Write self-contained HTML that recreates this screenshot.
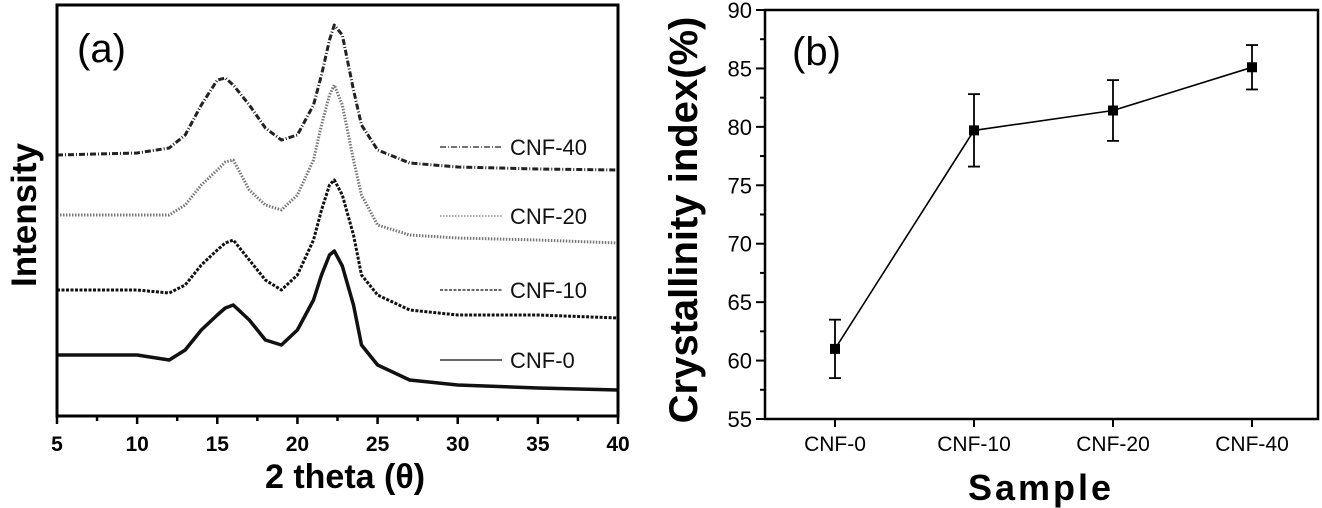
<!DOCTYPE html>
<html><head><meta charset="utf-8"><style>
html,body{margin:0;padding:0;background:#fff;}
svg{display:block;font-family:"Liberation Sans",Arial,sans-serif;}
</style></head><body>
<svg id="chart" width="1322" height="508" viewBox="0 0 1322 508">
<g id="pa"></g>
<g id="pb"></g>
</svg>
<script>
// Panel (a) data: 2theta positions and intensities (arbitrary units)
const xrdX = [5,10,12,13,14,15,15.5,16,17,18,19,20,21,21.5,22,22.3,22.8,23.5,24,25,27,30,35,40];
const cnf40 = [261,263,268,281,311,336,338,331,311,288,276,281,311,341,376,391,381,326,291,266,253,249,247,246];
const cnf20 = [201,201,201,211,231,246,254,256,226,211,206,221,256,291,321,331,311,256,221,191,181,178,176,173];
const cnf10 = [126,126,123,131,151,166,173,176,156,136,126,141,176,206,231,236,221,181,141,121,106,101,101,98];
const cnf0  = [61,61,56,66,86,101,108,111,96,76,71,86,116,141,161,165,150,111,71,51,36,31,28,26];
const xTicksA = [5,10,15,20,25,30,35,40];
const legendA = ["CNF-40","CNF-20","CNF-10","CNF-0"];
// Panel (b) data
const samples = ["CNF-0","CNF-10","CNF-20","CNF-40"];
const crystallinity = [61.0,79.7,81.4,85.1];
const errHi = [63.5,82.8,84.0,87.0];
const errLo = [58.5,76.6,78.8,83.2];
const yTicksB = [55,60,65,70,75,80,85,90];

const NS="http://www.w3.org/2000/svg";
function mk(parent,tag,attrs,text){const e=document.createElementNS(NS,tag);for(const k in attrs)e.setAttribute(k,attrs[k]);if(text!==undefined)e.textContent=text;parent.appendChild(e);return e;}

// ---- Panel A ----
const pa=document.getElementById('pa');
const aL=57,aR=618,aT=5,aB=416;
const xa=v=>aL+(v-5)/(40-5)*(aR-aL);
const ya=v=>aB-v/411*(aB-aT);
const series=[
 {name:"CNF-40",d:cnf40,dash:"6,2,1,2",col:"#222",ly:147,w:3},
 {name:"CNF-20",d:cnf20,dash:"1.5,1.5",col:"#777",ly:216,w:3},
 {name:"CNF-10",d:cnf10,dash:"3,1.5",col:"#111",ly:290,w:3},
 {name:"CNF-0",d:cnf0,dash:"",col:"#111",ly:360,w:3.5}];
series.forEach(s=>{
  const pts=s.d.map((v,i)=>xa(xrdX[i]).toFixed(1)+","+ya(v).toFixed(1)).join(" ");
  const p=mk(pa,'polyline',{points:pts,fill:"none",stroke:s.col,"stroke-width":s.w,"stroke-dasharray":s.dash,"stroke-linejoin":"round"});
  
  
  const l=mk(pa,'line',{x1:440,x2:502,y1:s.ly,y2:s.ly,stroke:s.col,"stroke-width":1.2,"stroke-dasharray":s.dash||"none"});
  
  
  const t=mk(pa,'text',{x:510,y:s.ly+8,"font-size":22,fill:"#111"},s.name);
  
  
});
const fa=mk(pa,'rect',{x:aL,y:aT,width:aR-aL,height:aB-aT,fill:"none",stroke:"#000","stroke-width":3});


for(let v=5;v<=40;v+=2.5){
  const major=(v%5===0);
  const tk=mk(pa,'line',{x1:xa(v),x2:xa(v),y1:aB,y2:aB+(major?8:5),stroke:"#000","stroke-width":2.5});
  
  
}
xTicksA.forEach(v=>{
  const t=mk(pa,'text',{x:xa(v),y:451,"font-size":21,"font-weight":"bold","text-anchor":"middle"},String(v));
  
  
});
mk(pa,'text',{x:345,y:488,"font-size":34,"font-weight":"bold","text-anchor":"middle",},"2 theta (θ)");
mk(pa,'text',{x:0,y:0,"font-size":35,"font-weight":"bold","text-anchor":"middle",transform:"translate(36,215) rotate(-90)",},"Intensity");
mk(pa,'text',{x:77,y:62,"font-size":40,},"(a)");

// ---- Panel B ----
const pb=document.getElementById('pb');
const bL=765,bR=1318,bT=10,bB=419;
const yb=v=>bB-(v-55)/(90-55)*(bB-bT);
const xb=i=>835+i*139;
const fb=mk(pb,'rect',{x:bL,y:bT,width:bR-bL,height:bB-bT,fill:"none",stroke:"#000","stroke-width":2.5});


for(let v=55;v<=90;v+=2.5){
  const major=(v%5===0);
  const tk=mk(pb,'line',{x1:bL-(major?9:5),x2:bL,y1:yb(v),y2:yb(v),stroke:"#000","stroke-width":2});
  
  
}
yTicksB.forEach(v=>{
  const t=mk(pb,'text',{x:752,y:yb(v)+8,"font-size":22,"text-anchor":"end"},String(v));
  
  
});
samples.forEach((s,i)=>{
  const tk=mk(pb,'line',{x1:xb(i),x2:xb(i),y1:bB,y2:bB+8,stroke:"#000","stroke-width":2});
  
  
  const t=mk(pb,'text',{x:xb(i),y:451,"font-size":21,"text-anchor":"middle"},s);
  
  
});
const pts=crystallinity.map((v,i)=>xb(i)+","+yb(v).toFixed(1)).join(" ");
const ln=mk(pb,'polyline',{points:pts,fill:"none",stroke:"#000","stroke-width":1.6});


crystallinity.forEach((v,i)=>{
  const g=mk(pb,'g',{});
  
  
  mk(g,'line',{x1:xb(i),x2:xb(i),y1:yb(errHi[i]),y2:yb(errLo[i]),stroke:"#000","stroke-width":1.8});
  mk(g,'line',{x1:xb(i)-6,x2:xb(i)+6,y1:yb(errHi[i]),y2:yb(errHi[i]),stroke:"#000","stroke-width":1.8});
  mk(g,'line',{x1:xb(i)-6,x2:xb(i)+6,y1:yb(errLo[i]),y2:yb(errLo[i]),stroke:"#000","stroke-width":1.8});
  mk(g,'rect',{x:xb(i)-5,y:yb(v)-5,width:10,height:10,fill:"#000"});
});
mk(pb,'text',{x:1041,y:500,"font-size":36,"font-weight":"bold","text-anchor":"middle","letter-spacing":"3",},"Sample");
mk(pb,'text',{x:0,y:0,"font-size":40,"font-weight":"bold","text-anchor":"middle",transform:"translate(697,220) rotate(-90)",},"Crystallinity index(%)");
mk(pb,'text',{x:792,y:65,"font-size":40,},"(b)");
</script>
</body></html>
